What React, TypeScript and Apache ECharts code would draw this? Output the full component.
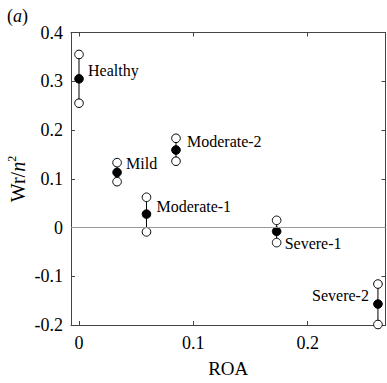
import React, { useEffect, useRef } from "react";
import * as echarts from "echarts";

const categories = ["Healthy", "Mild", "Moderate-1", "Moderate-2", "Severe-1", "Severe-2"];
const roa = [0, 0.0333, 0.059, 0.0848, 0.1728, 0.2614];
const meanWr = [0.305, 0.113, 0.0275, 0.159, -0.008, -0.157];
const upperWr = [0.355, 0.133, 0.062, 0.183, 0.0147, -0.116];
const lowerWr = [0.255, 0.094, -0.009, 0.136, -0.031, -0.199];
const xTicks = [0, 0.1, 0.2];

// label placement (styling only): pixel offsets from the filled marker
const labelPlacement: { dx: number; dy: number; align: "left" | "right" }[] = [
  { dx: 9, dy: -8, align: "left" },
  { dx: 9, dy: -9, align: "left" },
  { dx: 10, dy: -8, align: "left" },
  { dx: 11, dy: -8, align: "left" },
  { dx: 8, dy: 12, align: "left" },
  { dx: -9, dy: -9, align: "right" },
];

const FONT = "Liberation Serif, serif";
const AXIS_COLOR = "#444";

export default function App() {
  const ref = useRef<HTMLDivElement>(null);
  useEffect(() => {
    if (!ref.current) return;
    const chart = echarts.init(ref.current, undefined, { renderer: "svg" });
    const data = roa.map((x, i) => [x, meanWr[i], upperWr[i], lowerWr[i]]);
    const fmt = (v: number) => {
      const r = Math.round(v * 10) / 10;
      return r === 0 ? "0" : String(r);
    };
    const R = 4.3;
    chart.setOption({
      animation: false,
      grid: { left: 71, right: 1.5, top: 32.5, bottom: 52.5, containLabel: false },
      textStyle: { fontFamily: FONT },
      xAxis: [
        {
          type: "value",
          position: "bottom",
          min: -0.007,
          max: 0.268,
          splitLine: { show: false },
          axisLine: { show: true, onZero: false, lineStyle: { color: AXIS_COLOR, width: 1 } },
          axisTick: { show: true, inside: true, length: 4, customValues: xTicks, lineStyle: { color: AXIS_COLOR } },
          axisLabel: {
            customValues: xTicks,
            formatter: fmt,
            fontFamily: FONT,
            fontSize: 18,
            color: "#000",
            margin: 9,
          },
          name: "ROA",
          nameLocation: "middle",
          nameGap: 34,
          nameTextStyle: { fontFamily: FONT, fontSize: 19, color: "#000" },
        },
        {
          type: "value",
          position: "top",
          min: -0.007,
          max: 0.268,
          splitLine: { show: false },
          axisLine: { show: true, onZero: false, lineStyle: { color: AXIS_COLOR, width: 1 } },
          axisTick: { show: true, inside: true, length: 4, customValues: xTicks, lineStyle: { color: AXIS_COLOR } },
          axisLabel: { show: false },
        },
      ],
      yAxis: [
        {
          type: "value",
          position: "left",
          min: -0.2,
          max: 0.4,
          interval: 0.1,
          splitLine: { show: false },
          axisLine: { show: true, onZero: false, lineStyle: { color: AXIS_COLOR, width: 1 } },
          axisTick: { show: true, inside: true, length: 4, lineStyle: { color: AXIS_COLOR } },
          axisLabel: { formatter: fmt, fontFamily: FONT, fontSize: 18, color: "#000", margin: 8 },
        },
        {
          type: "value",
          position: "right",
          min: -0.2,
          max: 0.4,
          interval: 0.1,
          splitLine: { show: false },
          axisLine: { show: true, onZero: false, lineStyle: { color: AXIS_COLOR, width: 1 } },
          axisTick: { show: true, inside: true, length: 4, lineStyle: { color: AXIS_COLOR } },
          axisLabel: { show: false },
        },
      ],
      graphic: [
        {
          type: "text",
          left: 7,
          top: 7,
          style: {
            text: "({i|a})",
            fontFamily: FONT,
            fontSize: 18,
            fill: "#000",
            rich: { i: { fontStyle: "italic", fontFamily: FONT, fontSize: 18 } },
          },
        },
        {
          type: "text",
          x: 17,
          y: 179,
          rotation: Math.PI / 2,
          style: {
            text: "{a|Wr/}{b|n}{c|2}",
            align: "center",
            verticalAlign: "middle",
            fill: "#000",
            rich: {
              a: { fontFamily: FONT, fontSize: 20, lineHeight: 22, verticalAlign: "bottom" },
              b: { fontFamily: FONT, fontSize: 20, fontStyle: "italic", lineHeight: 22, verticalAlign: "bottom" },
              c: { fontFamily: FONT, fontSize: 12, lineHeight: 12, verticalAlign: "top" },
            },
          },
        },
      ],
      series: [
        {
          type: "custom",
          clip: false,
          data,
          encode: { x: 0, y: [1, 2, 3] },
          renderItem: (params: any, api: any) => {
            const i = params.dataIndex;
            const x = api.value(0);
            const pm = api.coord([x, api.value(1)]);
            const pu = api.coord([x, api.value(2)]);
            const pl = api.coord([x, api.value(3)]);
            const lp = labelPlacement[i];
            return {
              type: "group",
              children: [
                {
                  type: "line",
                  shape: { x1: pu[0], y1: pu[1], x2: pl[0], y2: pl[1] },
                  style: { stroke: "#000", lineWidth: 1 },
                },
                {
                  type: "circle",
                  shape: { cx: pu[0], cy: pu[1], r: R },
                  style: { fill: "#fff", stroke: "#000", lineWidth: 1 },
                },
                {
                  type: "circle",
                  shape: { cx: pl[0], cy: pl[1], r: R },
                  style: { fill: "#fff", stroke: "#000", lineWidth: 1 },
                },
                {
                  type: "circle",
                  shape: { cx: pm[0], cy: pm[1], r: R },
                  style: { fill: "#000", stroke: "#000", lineWidth: 1 },
                },
                {
                  type: "text",
                  x: pm[0] + lp.dx,
                  y: pm[1] + lp.dy,
                  style: {
                    text: categories[i],
                    fontFamily: FONT,
                    fontSize: 16,
                    fill: "#000",
                    align: lp.align,
                    verticalAlign: "middle",
                  },
                },
              ],
            };
          },
          markLine: {
            silent: true,
            symbol: "none",
            label: { show: false },
            lineStyle: { color: "#999", width: 1, type: "solid" },
            data: [{ yAxis: 0 }],
          },
          z: 3,
        },
      ],
    });
    return () => chart.dispose();
  }, []);
  return <div ref={ref} style={{ position: "absolute", left: 0, top: 0, width: 387, height: 383 }} />;
}
